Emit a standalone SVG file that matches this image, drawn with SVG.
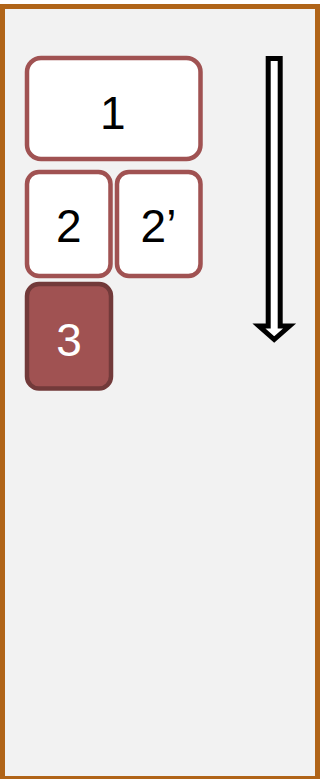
<svg xmlns="http://www.w3.org/2000/svg" width="320" height="779" viewBox="0 0 320 779">
<style>
.box{fill:#ffffff;stroke:#a05252;stroke-width:4.5}
.dark{fill:#a05252;stroke:#723a3a;stroke-width:4.5}
.t{font-family:"Liberation Sans",Arial,sans-serif;font-size:46px;text-anchor:middle;fill:#000}
.tw{fill:#ffffff}
</style>
<rect x="0" y="0" width="320" height="779" fill="#ffffff"/>
<rect id="frame" x="2.5" y="6.5" width="315" height="772" fill="#f2f2f2" stroke="#b06418" stroke-width="5"/>
<g id="node1">
<rect class="box" x="27" y="58" width="173.5" height="101" rx="14"/>
<text class="t" x="112.7" y="128.5">1</text>
</g>
<g id="node2">
<rect class="box" x="27" y="172" width="83.5" height="104" rx="12"/>
<text class="t" x="68.75" y="242">2</text>
</g>
<g id="node2p">
<rect class="box" x="117" y="172" width="83.5" height="104" rx="12"/>
<text class="t" x="158.5" y="242">2’</text>
</g>
<g id="node3">
<rect class="dark" x="27" y="284" width="84" height="104.5" rx="12"/>
<text class="t tw" x="69" y="355.5">3</text>
</g>
<g id="connectors">
<polygon points="268.2,58.5 280.2,58.5 280.2,326 289.5,326 274.2,339.5 259,326 268.2,326" fill="#ffffff" stroke="#000000" stroke-width="5" stroke-linejoin="miter"/>
</g>
</svg>
